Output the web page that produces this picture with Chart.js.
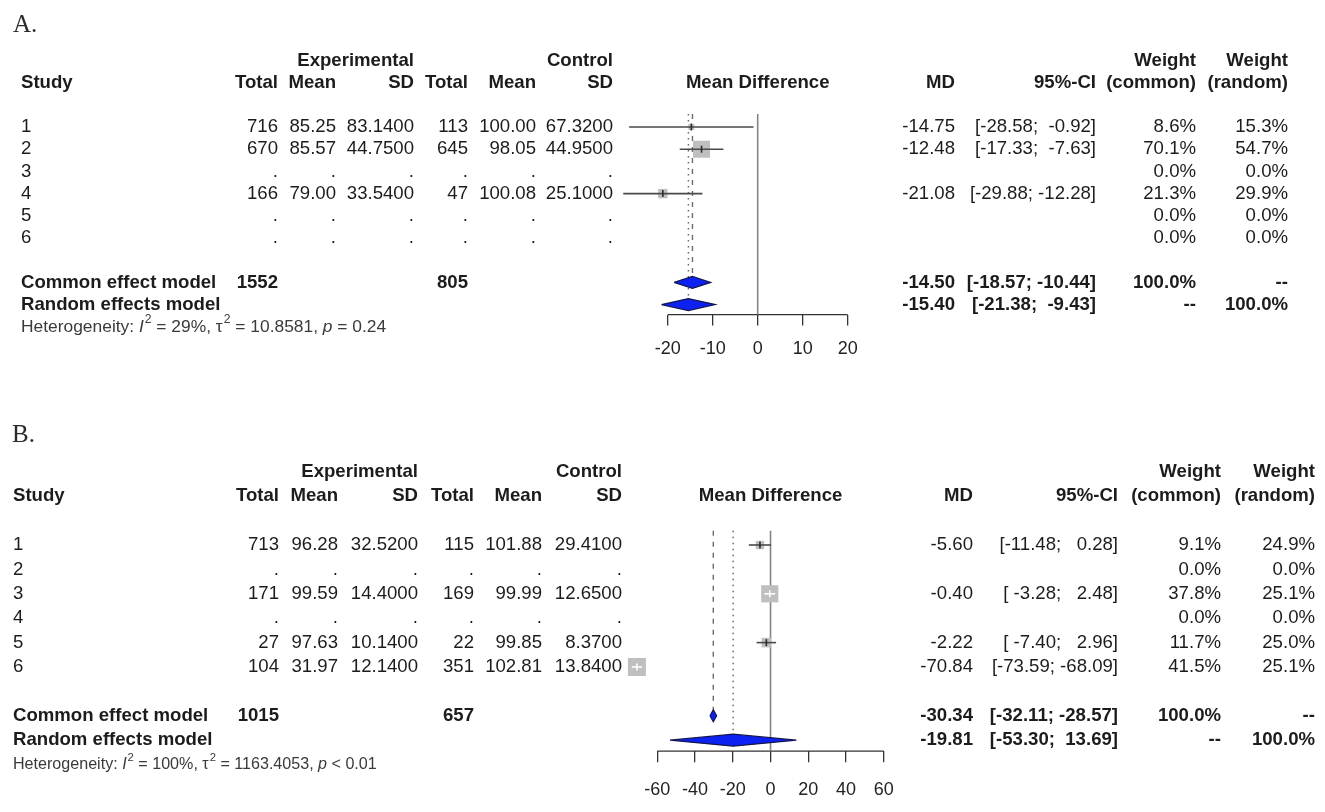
<!DOCTYPE html>
<html lang="en">
<head>
<meta charset="UTF-8">
<title>Forest plots A and B</title>
<script src="https://cdn.jsdelivr.net/npm/chart.js"></script>
<style>
  html, body { margin: 0; padding: 0; background: #fff; }
  body { width: 1325px; height: 812px; position: relative; overflow: hidden; }
  canvas { position: absolute; left: 0; }
  #plotA { top: 0; }
  #plotB { top: 400px; }
</style>
</head>
<body>
<canvas id="plotA" width="1325" height="372"></canvas>
<canvas id="plotB" width="1325" height="412"></canvas>
<script>
// ---- Panel A ----
const studiesA   = ['1', '2', '3', '4', '5', '6'];
const expTotalA  = [716, 670, null, 166, null, null];
const expMeanA   = [85.25, 85.57, null, 79.00, null, null];
const expSdA     = [83.14, 44.75, null, 33.54, null, null];
const ctrlTotalA = [113, 645, null, 47, null, null];
const ctrlMeanA  = [100.00, 98.05, null, 100.08, null, null];
const ctrlSdA    = [67.32, 44.95, null, 25.10, null, null];
const mdA        = [-14.75, -12.48, null, -21.08, null, null];
const ciLowA     = [-28.58, -17.33, null, -29.88, null, null];
const ciHighA    = [-0.92, -7.63, null, -12.28, null, null];
const wCommonA   = [8.6, 70.1, 0, 21.3, 0, 0];
const wRandomA   = [15.3, 54.7, 0, 29.9, 0, 0];
const commonA    = [-14.50, -18.57, -10.44];   // MD, lower, upper
const randomA    = [-15.40, -21.38, -9.43];
const totalsA    = [1552, 805];
const hetA       = ['29%', '10.8581', '= 0.24'];
const ticksA     = [-20, -10, 0, 10, 20];

// ---- Panel B ----
const studiesB   = ['1', '2', '3', '4', '5', '6'];
const expTotalB  = [713, null, 171, null, 27, 104];
const expMeanB   = [96.28, null, 99.59, null, 97.63, 31.97];
const expSdB     = [32.52, null, 14.40, null, 10.14, 12.14];
const ctrlTotalB = [115, null, 169, null, 22, 351];
const ctrlMeanB  = [101.88, null, 99.99, null, 99.85, 102.81];
const ctrlSdB    = [29.41, null, 12.65, null, 8.37, 13.84];
const mdB        = [-5.60, null, -0.40, null, -2.22, -70.84];
const ciLowB     = [-11.48, null, -3.28, null, -7.40, -73.59];
const ciHighB    = [0.28, null, 2.48, null, 2.96, -68.09];
const wCommonB   = [9.1, 0, 37.8, 0, 11.7, 41.5];
const wRandomB   = [24.9, 0, 25.1, 0, 25.0, 25.1];
const commonB    = [-30.34, -32.11, -28.57];
const randomB    = [-19.81, -53.30, 13.69];
const totalsB    = [1015, 657];
const hetB       = ['100%', '1163.4053', '< 0.01'];
const ticksB     = [-60, -40, -20, 0, 20, 40, 60];

const SANS = '"Liberation Sans", Arial, Helvetica, sans-serif';
const SERIF = '"Liberation Serif", "DejaVu Serif", serif';
const TEXT = '#1c1c1c';
const FS = 18.6;

function num(v, d) { return v == null ? '.' : v.toFixed(d); }

function ciStrings(lows, highs) {
  const lo = lows.map(v => v == null ? '' : v.toFixed(2));
  const hi = highs.map(v => v == null ? '' : v.toFixed(2));
  const wl = Math.max(...lo.map(s => s.length));
  const wh = Math.max(...hi.map(s => s.length));
  return lo.map((s, i) => s === '' ? '' : '[' + s.padStart(wl) + '; ' + hi[i].padStart(wh) + ']');
}

function drawTable(chart, d, lay) {
  const ctx = chart.ctx;
  const ys = chart.scales.y, xs = chart.scales.x;
  const ry = r => ys.getPixelForValue(r);
  const bold = 'bold ' + FS + 'px ' + SANS, reg = FS + 'px ' + SANS;
  const put = (t, x, r, align) => { ctx.textAlign = align; ctx.fillText(t, x, ry(r)); };

  ctx.save();
  ctx.fillStyle = '#2a2a2a';
  ctx.textBaseline = 'middle';
  ctx.font = '25px ' + SERIF;
  ctx.textAlign = 'left';
  ctx.fillText(d.label, lay.letterX, lay.letterY);

  ctx.fillStyle = TEXT;
  const c = lay.cols, rc = lay.rcols;
  ctx.font = bold;
  put('Experimental', c[2], -2, 'right');
  put('Control', c[5], -2, 'right');
  put('Weight', rc[2], -2, 'right');
  put('Weight', rc[3], -2, 'right');
  put('Study', lay.studyX, -1, 'left');
  ['Total', 'Mean', 'SD', 'Total', 'Mean', 'SD'].forEach((t, i) => put(t, c[i], -1, 'right'));
  const mid = xs.getPixelForValue((d.ticks[0] + d.ticks[d.ticks.length - 1]) / 2);
  put('Mean Difference', mid, -1, 'center');
  put('MD', rc[0], -1, 'right');
  put('95%-CI', rc[1], -1, 'right');
  put('(common)', rc[2], -1, 'right');
  put('(random)', rc[3], -1, 'right');

  const ci = ciStrings(d.ciLow.concat([d.common[1], d.random[1]]),
                       d.ciHigh.concat([d.common[2], d.random[2]]));
  ctx.font = reg;
  d.studies.forEach((s, i) => {
    const r = i + 1;
    put(s, lay.studyX, r, 'left');
    const vals = [
      d.expTotal[i] == null ? '.' : String(d.expTotal[i]),
      num(d.expMean[i], 2), num(d.expSd[i], 4),
      d.ctrlTotal[i] == null ? '.' : String(d.ctrlTotal[i]),
      num(d.ctrlMean[i], 2), num(d.ctrlSd[i], 4)
    ];
    vals.forEach((t, k) => put(t, c[k], r, 'right'));
    if (d.md[i] != null) {
      put(d.md[i].toFixed(2), rc[0], r, 'right');
      put(ci[i], rc[1], r, 'right');
    }
    put(d.wCommon[i].toFixed(1) + '%', rc[2], r, 'right');
    put(d.wRandom[i].toFixed(1) + '%', rc[3], r, 'right');
  });

  const n = d.studies.length;
  ctx.font = bold;
  put('Common effect model', lay.studyX, 8, 'left');
  put(String(d.totals[0]), c[0], 8, 'right');
  put(String(d.totals[1]), c[3], 8, 'right');
  put(d.common[0].toFixed(2), rc[0], 8, 'right');
  put(ci[n], rc[1], 8, 'right');
  put('100.0%', rc[2], 8, 'right');
  put('--', rc[3], 8, 'right');
  put('Random effects model', lay.studyX, 9, 'left');
  put(d.random[0].toFixed(2), rc[0], 9, 'right');
  put(ci[n + 1], rc[1], 9, 'right');
  put('--', rc[2], 9, 'right');
  put('100.0%', rc[3], 9, 'right');

  // heterogeneity line
  const hs = lay.hetSize;
  const parts = [
    ['Heterogeneity: ', ''], ['I', 'italic '], ['2', 'sup'],
    [' = ' + d.het[0] + ', ', ''], ['\u03c4', ''], ['2', 'sup'],
    [' = ' + d.het[1] + ', ', ''], ['p', 'italic '], [' ' + d.het[2], '']
  ];
  ctx.fillStyle = '#3a3a3a';
  ctx.textAlign = 'left';
  let hx = lay.studyX;
  const hy = ry(lay.hetRow);
  parts.forEach(([t, st]) => {
    if (st === 'sup') {
      ctx.font = (hs * 0.7) + 'px ' + SANS;
      ctx.fillText(t, hx + 1, hy - hs * 0.4);
      hx += ctx.measureText(t).width + 1;
    } else {
      ctx.font = st + hs + 'px ' + SANS;
      ctx.fillText(t, hx, hy);
      hx += ctx.measureText(t).width;
    }
  });
  ctx.restore();
}

function buildForest(id, d, lay) {
  const yTop = lay.yTop, yBot = lay.yBot;
  const pxPerUnit = (lay.plotRight - lay.plotLeft) / (lay.xMax - lay.xMin);
  const maxW = Math.max(...d.wCommon);
  const dh = lay.diamondPx / lay.rowH;
  const tMin = d.ticks[0], tMax = d.ticks[d.ticks.length - 1];

  const sqPts = [], sqRad = [], tickCol = [];
  const datasets = [];

  d.md.forEach((m, i) => {
    if (m == null) return;
    const side = lay.squareMax * Math.sqrt(d.wCommon[i] / maxW);
    const inside = (d.ciHigh[i] - d.ciLow[i]) * pxPerUnit <= side;
    sqPts.push({ x: m, y: i + 1 });
    sqRad.push(side / Math.SQRT2);
    tickCol.push(inside ? '#ffffff' : '#2b2b2b');
    datasets.push({
      data: [{ x: d.ciLow[i], y: i + 1 }, { x: d.ciHigh[i], y: i + 1 }],
      borderColor: inside ? '#ffffff' : '#4a4a4a', borderWidth: 1.6, order: 3
    });
  });

  datasets.push(
    { data: [{ x: 0, y: yTop }, { x: 0, y: yBot }], borderColor: '#858585', borderWidth: 1.6, order: 7 },
    { data: [{ x: tMin, y: yBot }, { x: tMax, y: yBot }], borderColor: '#333', borderWidth: 1.3, order: 7 },
    { data: [{ x: d.common[0], y: yTop }, { x: d.common[0], y: 8 - dh }],
      borderColor: '#6b6b6b', borderWidth: 1.4, borderDash: [5, 6], order: 6 },
    { data: [{ x: d.random[0], y: yTop }, { x: d.random[0], y: 9 - dh }],
      borderColor: '#6b6b6b', borderWidth: 1.5, borderDash: [1.5, 4.5], order: 6 },
    { data: sqPts, showLine: false, pointStyle: 'rect', pointRadius: sqRad,
      pointBackgroundColor: '#bfbfbf', pointBorderWidth: 0, order: 4 },
    { data: sqPts, showLine: false, pointStyle: 'line', rotation: 90, pointRadius: 3.5,
      pointBorderColor: tickCol, pointBorderWidth: 1.6, order: 2 }
  );

  [[d.common, 8], [d.random, 9]].forEach(([p, r]) => {
    datasets.push({
      data: [{ x: p[1], y: r }, { x: p[0], y: r - dh }, { x: p[2], y: r },
             { x: p[0], y: r + dh }, { x: p[1], y: r }],
      fill: 'shape', backgroundColor: '#0b22f2', borderColor: '#151552',
      borderWidth: 1.2, order: 1
    });
  });

  datasets.forEach(ds => {
    ds.type = 'line';
    ds.clip = false;
    ds.tension = 0;
    if (ds.pointRadius === undefined) ds.pointRadius = 0;
    if (ds.fill === undefined) ds.fill = false;
  });

  return new Chart(document.getElementById(id), {
    type: 'line',
    data: { datasets },
    options: {
      responsive: false,
      animation: false,
      devicePixelRatio: 1,
      events: [],
      layout: { padding: { left: lay.plotLeft, right: 1325 - lay.plotRight, top: lay.chartTop, bottom: 0 } },
      plugins: { legend: { display: false }, tooltip: { enabled: false } },
      scales: {
        x: {
          type: 'linear', position: 'bottom', min: lay.xMin, max: lay.xMax,
          afterBuildTicks: s => { s.ticks = d.ticks.map(v => ({ value: v })); },
          afterFit: s => { s.height = lay.axisH; },
          border: { display: false },
          grid: { drawOnChartArea: false, drawTicks: true, tickLength: 11, color: '#333', lineWidth: 1.3 },
          ticks: { font: { family: SANS, size: 18 }, color: '#222', padding: lay.tickPad,
                   maxRotation: 0, autoSkip: false }
        },
        y: { type: 'linear', display: false, reverse: true, min: yTop, max: yBot }
      }
    },
    plugins: [{ id: 'table_' + id, afterDraw: chart => drawTable(chart, d, lay) }]
  });
}

const dataA = {
  label: 'A.', studies: studiesA, expTotal: expTotalA, expMean: expMeanA, expSd: expSdA,
  ctrlTotal: ctrlTotalA, ctrlMean: ctrlMeanA, ctrlSd: ctrlSdA, md: mdA, ciLow: ciLowA,
  ciHigh: ciHighA, wCommon: wCommonA, wRandom: wRandomA, common: commonA, random: randomA,
  totals: totalsA, het: hetA, ticks: ticksA
};
const dataB = {
  label: 'B.', studies: studiesB, expTotal: expTotalB, expMean: expMeanB, expSd: expSdB,
  ctrlTotal: ctrlTotalB, ctrlMean: ctrlMeanB, ctrlSd: ctrlSdB, md: mdB, ciLow: ciLowB,
  ciHigh: ciHighB, wCommon: wCommonB, wRandom: wRandomB, common: commonB, random: randomB,
  totals: totalsB, het: hetB, ticks: ticksB
};

// layout (canvas pixel coordinates)
function layoutFor(o) {
  const top = o.row1 - (1 - o.yTop) * o.rowH;
  const bottom = o.row1 + (o.yBot - 1) * o.rowH;
  o.chartTop = top;
  o.axisH = o.canvasH - bottom;
  o.tickPad = o.labelY - bottom - 11 - 10.8;
  return o;
}
const layA = layoutFor({
  canvasH: 372, row1: 127, rowH: 22.2, yTop: 0.42, yBot: 9.45, labelY: 349,
  xMin: -35, xMax: 20, plotLeft: 600.2, plotRight: 847.7,
  studyX: 21, cols: [278, 336, 414, 468, 536, 613], rcols: [955, 1096, 1196, 1288],
  letterX: 13, letterY: 25, squareMax: 17, diamondPx: 6, hetSize: 17.4, hetRow: 10
});
const layB = layoutFor({
  canvasH: 412, row1: 145, rowH: 24.4, yTop: 0.42, yBot: 9.45, labelY: 390,
  xMin: -85, xMax: 60, plotLeft: 610.2, plotRight: 883.7,
  studyX: 13, cols: [279, 338, 418, 474, 542, 622], rcols: [973, 1118, 1221, 1315],
  letterX: 12, letterY: 35, squareMax: 18, diamondPx: 6, hetSize: 16.1, hetRow: 10
});

buildForest('plotA', dataA, layA);
buildForest('plotB', dataB, layB);
</script>
</body>
</html>
